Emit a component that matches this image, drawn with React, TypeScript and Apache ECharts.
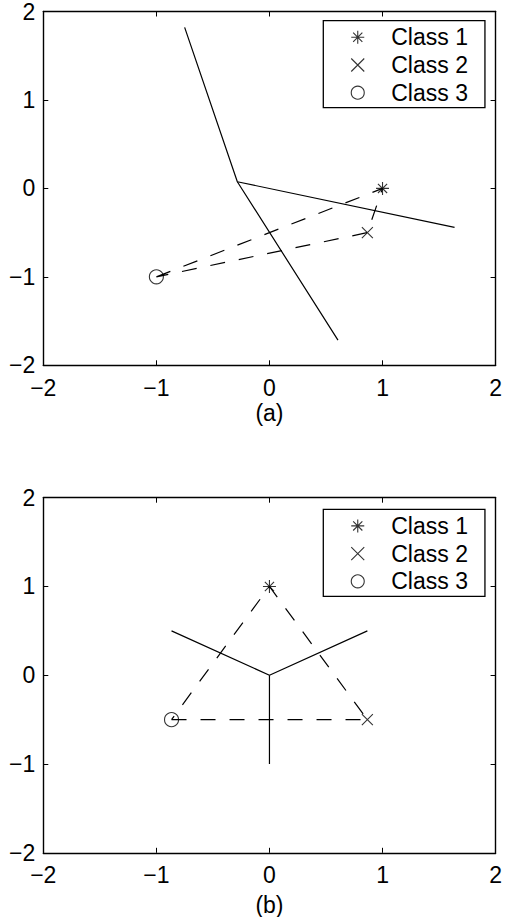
import React, { useEffect, useRef } from 'react';
import * as echarts from 'echarts';

const FONT = '"Liberation Sans", Arial, Helvetica, sans-serif';
const FS = 23;

const tickValues = [-2, -1, 0, 1, 2];
const tickLabels = ['−2', '−1', '0', '1', '2'];
const classNames = ['Class 1', 'Class 2', 'Class 3'];
const subplotLabels = ['(a)', '(b)'];

// Panel (a)
const aClass1 = [[1, 0]];
const aClass2 = [[0.866, -0.5]];
const aClass3 = [[-1, -1]];
const aBoundary1 = [[-0.75, 1.82], [-0.284, 0.075], [0.606, -1.715]];
const aBoundary2 = [[-0.284, 0.075], [1.637, -0.44]];
const aLinks = [[-1, -1], [1, 0], [0.866, -0.5], [-1, -1]];

// Panel (b)
const bClass1 = [[0, 1]];
const bClass2 = [[0.866, -0.5]];
const bClass3 = [[-0.866, -0.5]];
const bBoundary1 = [[-0.866, 0.5], [0, 0], [0.866, 0.5]];
const bBoundary2 = [[0, 0], [0, -1]];
const bLinks = [[-0.866, -0.5], [0.866, -0.5], [0, 1], [-0.866, -0.5]];

const STAR = 'path://M0,-10L0,10M-10,0L10,0M-7.07,-7.07L7.07,7.07M-7.07,7.07L7.07,-7.07';
const CROSS = 'path://M-1,-1L1,1M-1,1L1,-1';
const symbols = [STAR, CROSS, 'circle'];
const symbolSizes = [13, 11, 14];

const fmt = (v: number) => {
  const i = tickValues.indexOf(v);
  return i >= 0 ? tickLabels[i] : String(v);
};

const markerStyle = { color: 'transparent', borderColor: '#000', borderWidth: 1.1 };

function axesFor(gridIndex: number, name: string, nameGap: number) {
  const base = {
    gridIndex,
    type: 'value',
    min: -2,
    max: 2,
    interval: 1,
    splitLine: { show: false },
    axisLine: { show: true, onZero: false, lineStyle: { color: '#000', width: 1.4 } },
    axisTick: { show: true, inside: true, length: 5, lineStyle: { color: '#000', width: 1 } },
  };
  const label = { show: true, color: '#000', fontSize: FS, fontFamily: FONT, formatter: fmt };
  const x = [
    {
      ...base,
      position: 'bottom',
      axisLabel: { ...label, margin: 11 },
      name,
      nameLocation: 'middle',
      nameGap,
      nameTextStyle: { color: '#000', fontSize: FS, fontFamily: FONT },
    },
    { ...base, position: 'top', axisLabel: { show: false } },
  ];
  const y = [
    { ...base, position: 'left', axisLabel: { ...label, margin: 8 } },
    { ...base, position: 'right', axisLabel: { show: false } },
  ];
  return { x, y };
}

function seriesFor(
  axisIndex: number,
  classes: number[][][],
  boundaries: number[][][],
  links: number[][]
) {
  const out: any[] = [];
  boundaries.forEach((b) => {
    out.push({
      type: 'line',
      xAxisIndex: axisIndex,
      yAxisIndex: axisIndex,
      data: b,
      symbol: 'none',
      showSymbol: false,
      silent: true,
      lineStyle: { color: '#000', width: 1.2 },
      z: 2,
    });
  });
  out.push({
    type: 'line',
    xAxisIndex: axisIndex,
    yAxisIndex: axisIndex,
    data: links,
    symbol: 'none',
    showSymbol: false,
    silent: true,
    lineStyle: { color: '#000', width: 1.2, type: [15, 14] },
    z: 2,
  });
  classes.forEach((c, i) => {
    out.push({
      type: 'scatter',
      name: classNames[i],
      xAxisIndex: axisIndex,
      yAxisIndex: axisIndex,
      data: c,
      symbol: symbols[i],
      symbolSize: symbolSizes[i],
      itemStyle: markerStyle,
      emphasis: { disabled: true },
      silent: true,
      z: 3,
    });
  });
  return out;
}

function legendFor(top: number) {
  return {
    orient: 'vertical',
    left: 323.3,
    top,
    padding: [5.1, 17, 3.5, 27.4],
    itemWidth: 13,
    itemHeight: 13,
    itemGap: 4.7,
    backgroundColor: '#fff',
    borderColor: '#000',
    borderWidth: 1.3,
    borderRadius: 0,
    selectedMode: false,
    textStyle: { color: '#000', fontSize: FS, fontFamily: FONT, padding: [0, 0, 0, 22] },
    data: classNames.map((n, i) => ({
      name: n,
      icon: symbols[i],
      itemStyle: markerStyle,
    })),
  };
}

export default function App() {
  const ref = useRef<HTMLDivElement>(null);
  useEffect(() => {
    if (!ref.current) return;
    const chart = echarts.init(ref.current, undefined, { renderer: 'svg' });
    const a = axesFor(0, subplotLabels[0], 35.7);
    const b = axesFor(1, subplotLabels[1], 40.2);
    chart.setOption({
      animation: false,
      backgroundColor: '#fff',
      textStyle: { fontFamily: FONT },
      grid: [
        { left: 43.3, top: 9.3, width: 452.7, height: 356 },
        { left: 43.3, top: 497.7, width: 452.7, height: 356.6 },
      ],
      xAxis: [...a.x, ...b.x],
      yAxis: [...a.y, ...b.y],
      legend: [legendFor(20.7), legendFor(509.3)],
      series: [
        ...seriesFor(0, [aClass1, aClass2, aClass3], [aBoundary1, aBoundary2], aLinks),
        ...seriesFor(2, [bClass1, bClass2, bClass3], [bBoundary1, bBoundary2], bLinks),
      ],
    });
    return () => chart.dispose();
  }, []);
  return (
    <div
      ref={ref}
      style={{ position: 'absolute', left: 0, top: 0, width: 505, height: 917 }}
    />
  );
}
